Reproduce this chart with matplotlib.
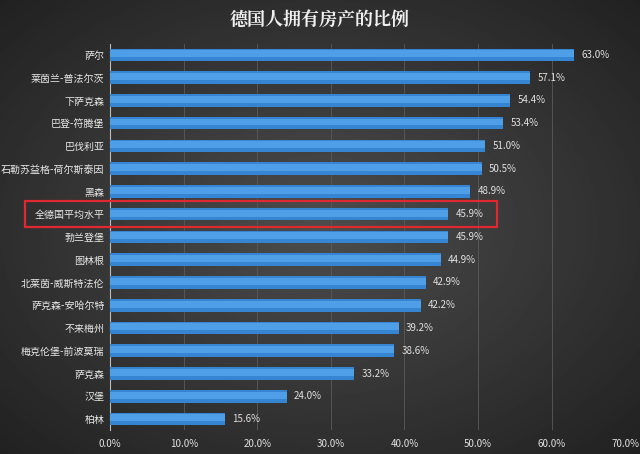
import matplotlib.pyplot as plt
import matplotlib.patches as patches
import numpy as np

plt.rcParams['font.family'] = ['Noto Sans CJK SC', 'DejaVu Sans']

regions = ['萨尔', '莱茵兰-普法尔茨', '下萨克森', '巴登-符腾堡', '巴伐利亚', '石勒苏益格-荷尔斯泰因',
           '黑森', '全德国平均水平', '勃兰登堡', '图林根', '北莱茵-威斯特法伦', '萨克森-安哈尔特',
           '不来梅州', '梅克伦堡-前波莫瑞', '萨克森', '汉堡', '柏林']
values = [63.0, 57.1, 54.4, 53.4, 51.0, 50.5, 48.9, 45.9, 45.9, 44.9, 42.9, 42.2,
          39.2, 38.6, 33.2, 24.0, 15.6]

fig = plt.figure(figsize=(6.4, 4.54), dpi=100)

# radial dark background
bg = fig.add_axes([0, 0, 1, 1], zorder=-10)
yy, xx = np.mgrid[-1:1:300j, -1:1:400j]
r = np.sqrt(xx**2 + yy**2)
bg.imshow(0.30 - 0.12 * r, cmap='gray', vmin=0, vmax=1, aspect='auto', extent=[0, 1, 0, 1])
bg.axis('off')

ax = fig.add_axes([0.172, 0.052, 0.805, 0.852])
ax.set_facecolor('none')
y = np.arange(len(regions))
ax.barh(y, values, height=0.55, color='#3585d2', edgecolor='none', zorder=3)
ax.barh(y - 0.05, values, height=0.3, color='#4f9fe8', edgecolor='none', zorder=3)
for yi, v in zip(y, values):
    ax.text(v + 1.0, yi, f'{v:.1f}%', va='center', ha='left', fontsize=7, color='#e0e0e0')

ax.set_ylim(len(regions) - 0.5, -0.5)
ax.set_xlim(0, 70)
ax.set_yticks(y)
ax.set_yticklabels(regions, fontsize=7.2, color='#e8e8e8')
ax.set_xticks(np.arange(0, 71, 10))
ax.set_xticklabels([f'{t:.1f}%' for t in np.arange(0, 71, 10)], fontsize=7, color='#e0e0e0')
ax.tick_params(axis='y', length=0, pad=4)
ax.tick_params(axis='x', length=0, pad=6)
ax.grid(axis='x', color='#5a5a5a', linewidth=0.6, zorder=0)
for s in ['top', 'right', 'bottom']:
    ax.spines[s].set_visible(False)
ax.spines['left'].set_color('#bbbbbb')

fig.text(0.5, 0.955, '德国人拥有房产的比例', ha='center', va='center', fontsize=13,
         fontweight='bold', color='#f0f0f0', family=['Noto Serif CJK SC', 'Noto Sans CJK SC'])

# highlight box around average row
fig.add_artist(patches.Rectangle((25 / 640, 1 - 227 / 454), 472 / 640, 26 / 454,
                                 fill=False, edgecolor='#e0282f', linewidth=1.6,
                                 transform=fig.transFigure))

fig.savefig('out.png', dpi=100)
